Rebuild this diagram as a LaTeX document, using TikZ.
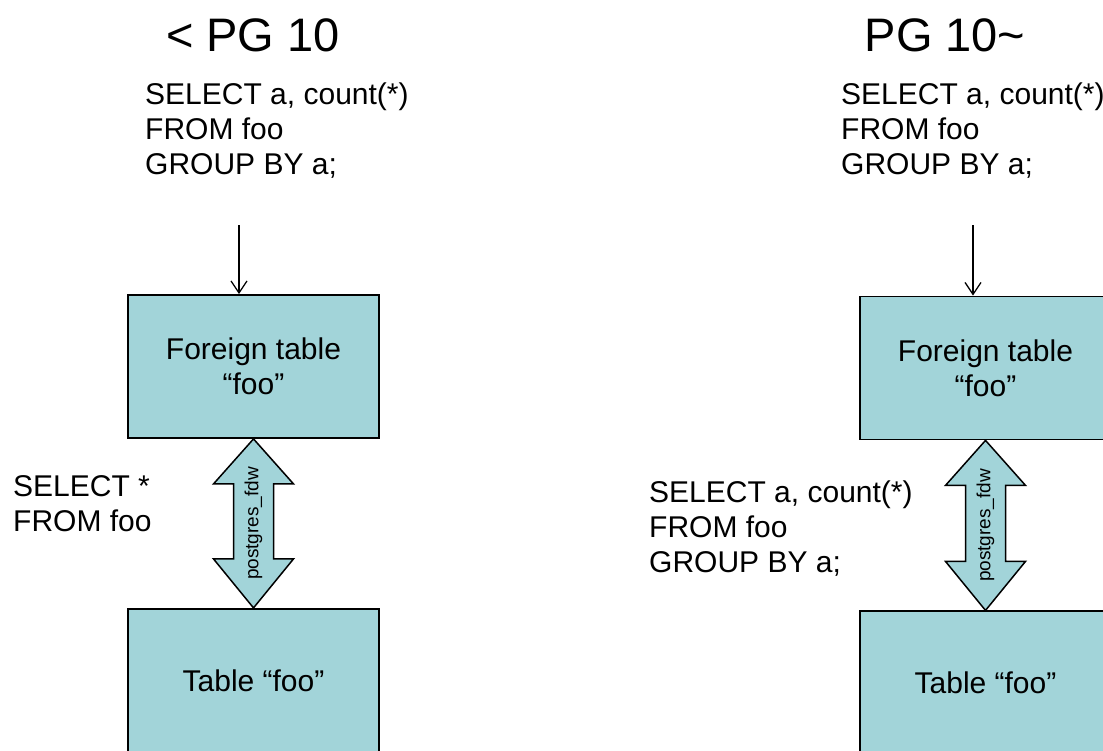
\documentclass[tikz,border=0pt]{standalone}
\usepackage{fontspec}
\setmainfont{Liberation Sans}
\usetikzlibrary{arrows.meta,calc,positioning}
\definecolor{fdwcyan}{RGB}{162,212,217}

\newcommand{\fdwarrow}[2]{%
  \draw[fdw] (#1.south) -- ($(#1.south)+(40,45)$) -- ($(#1.south)+(20,45)$)
    -- ($(#2.north)+(20,-49)$) -- ($(#2.north)+(40,-49)$) -- (#2.north)
    -- ($(#2.north)+(-40,-49)$) -- ($(#2.north)+(-20,-49)$)
    -- ($(#1.south)+(-20,45)$) -- ($(#1.south)+(-40,45)$) -- cycle;
  \node[fdwlabel] (#1lbl) at ($(#1.south)!0.5!(#2.north)$) {postgres\_fdw};}

\begin{document}
\begin{tikzpicture}[x=1pt,y=-1pt]
    \tikzstyle{box}=[draw, line width=1.8pt, fill=fdwcyan, minimum width=251pt, minimum height=143pt, align=center, font=\fontsize{30}{35}\selectfont]
    \tikzstyle{heading}=[font=\fontsize{47}{56}\selectfont, inner sep=0pt]
    \tikzstyle{sql}=[font=\fontsize{30}{35}\selectfont, align=left, anchor=north west, inner sep=0pt]
    \tikzstyle{feed}=[line width=1.3pt, -{Straight Barb[length=12pt,width=16pt]}]
    \tikzstyle{fdw}=[draw, line width=1.5pt, fill=fdwcyan, line join=miter]
    \tikzstyle{fdwlabel}=[rotate=90, inner sep=0pt, font=\fontsize{19}{22}\selectfont]

    \useasboundingbox (0,0) rectangle (1103,750);
    \clip (0,0) rectangle (1103,750);

    % before PG 10
    \node[heading]   (old)   at (253,35) {< PG 10};
    \node[sql]       (qold)  at (145,83) {SELECT a, count(*)\\FROM foo\\GROUP BY a;};
    \node[box]       (ft1)   at (253.5,366.5) {Foreign table\\“foo”};
    \node[box]       (tb1)   [below=169pt of ft1] {Table “foo”};
    \node[sql]       (rold)  at (13,475) {SELECT *\\FROM foo};
    \coordinate      (in1)   at (239,225);

    \draw[feed] (in1) -- (in1 |- ft1.north);
    \fdwarrow{ft1}{tb1}

    % PG 10 and later
    \node[heading]   (new)   at (945,35) {PG 10\textasciitilde};
    \node[sql]       (qnew)  at (841,83) {SELECT a, count(*)\\FROM foo\\GROUP BY a;};
    \node[box]       (ft2)   at (985.5,368) {Foreign table\\“foo”};
    \node[box]       (tb2)   [below=170pt of ft2] {Table “foo”};
    \node[sql]       (rnew)  at (649,481) {SELECT a, count(*)\\FROM foo\\GROUP BY a;};
    \coordinate      (in2)   at (973,225);

    \draw[feed] (in2) -- (in2 |- ft2.north);
    \fdwarrow{ft2}{tb2}
\end{tikzpicture}
\end{document}
